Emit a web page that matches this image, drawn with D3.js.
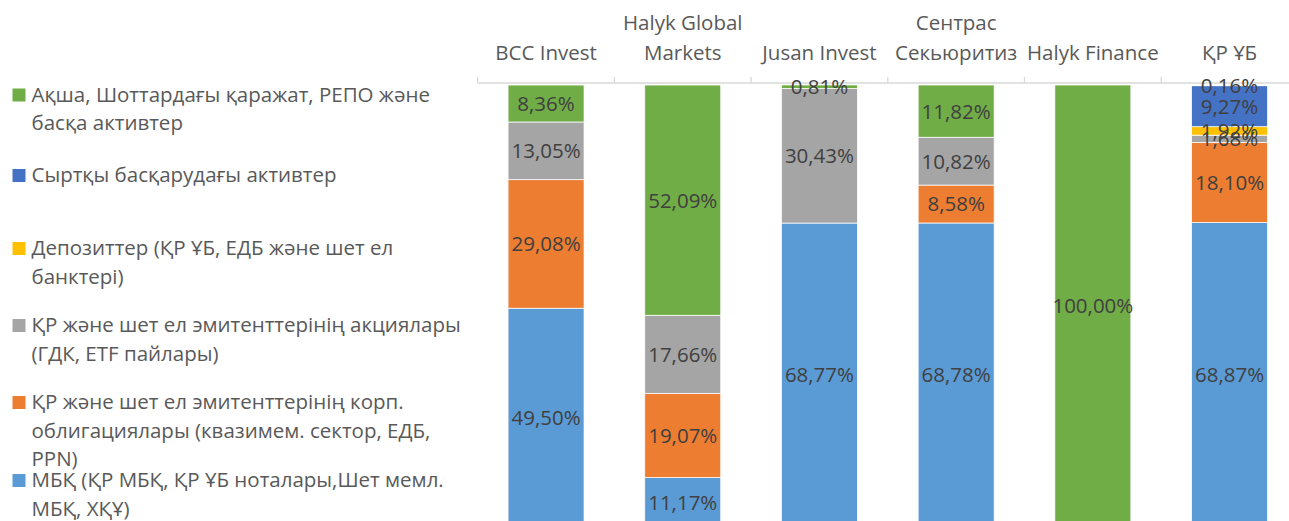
<!DOCTYPE html>
<html>
<head>
<meta charset="utf-8">
<script src="https://cdn.jsdelivr.net/npm/d3@7"></script>
<style>
  body { margin: 0; background: #fff; }
  svg { display: block; font-family: "Open Sans", sans-serif; }
</style>
</head>
<body>
<script>
// categories (line breaks as in the original labels)
const categories = ['BCC Invest', 'Halyk Global\nMarkets', 'Jusan Invest', 'Сентрас\nСекьюритиз', 'Halyk Finance', 'ҚР ҰБ'];

// series, bottom to top
const seriesNames = [
    'МБҚ (ҚР МБҚ, ҚР ҰБ ноталары,Шет мемл.\nМБҚ, ХҚҰ)',
    'ҚР және шет ел эмитенттерінің корп.\nоблигациялары (квазимем. сектор, ЕДБ,\nPPN)',
    'ҚР және шет ел эмитенттерінің акциялары\n(ГДК, ETF пайлары)',
    'Депозиттер (ҚР ҰБ, ЕДБ және шет ел\nбанктері)',
    'Сыртқы басқарудағы активтер',
    'Ақша, Шоттардағы қаражат, РЕПО және\nбасқа активтер'
];
const seriesColors = ['#5B9BD5', '#ED7D31', '#A5A5A5', '#FFC000', '#4472C4', '#70AD47'];

const mbk      = [49.50, 11.17, 68.77, 68.78, 0, 68.87];
const corp     = [29.08, 19.07, 0, 8.58, 0, 18.10];
const shares   = [13.05, 17.66, 30.43, 10.82, 0, 1.68];
const deposits = [0, 0, 0, 0, 0, 1.92];
const external = [0, 0, 0, 0, 0, 9.27];
const cash     = [8.36, 52.09, 0.81, 11.82, 100, 0.16];

const seriesValues = [mbk, corp, shares, deposits, external, cash];

const W = 1289, H = 521;
const fontSize = 20.5;

const table = categories.map((c, i) => {
    const row = { cat: c };
    seriesNames.forEach((s, k) => row[k] = seriesValues[k][i]);
    return row;
});

const svg = d3.select('body').append('svg')
    .attr('width', W)
    .attr('height', H);

const plotLeft = 477.7, step = 136.7;
const x = d3.scaleBand()
    .domain(categories)
    .range([plotLeft, plotLeft + step * categories.length])
    .paddingInner(0.444)
    .paddingOuter(0.222);

const y = d3.scaleLinear()
    .domain([0, 100])
    .range([527, 85]);

const stack = d3.stack().keys(seriesNames.map((s, k) => k));
const stacked = stack(table);

// category axis on top
const axisY = 83;
svg.append('line')
    .attr('x1', plotLeft).attr('x2', W)
    .attr('y1', axisY).attr('y2', axisY)
    .attr('stroke', '#D9D9D9').attr('stroke-width', 1.3);

svg.selectAll('.tick')
    .data(d3.range(categories.length + 1))
    .enter().append('line')
    .attr('x1', i => plotLeft + i * x.step())
    .attr('x2', i => plotLeft + i * x.step())
    .attr('y1', axisY - 6).attr('y2', axisY)
    .attr('stroke', '#D9D9D9').attr('stroke-width', 1.3);

svg.selectAll('.cat')
    .data(categories)
    .enter().append('text')
    .attr('text-anchor', 'middle')
    .attr('fill', '#595959')
    .style('font-size', fontSize + 'px')
    .each(function(c) {
        const lines = c.split('\n');
        const t = d3.select(this);
        lines.forEach((ln, j) => {
            t.append('tspan')
                .attr('x', x(c) + x.bandwidth() / 2)
                .attr('y', 60 - (lines.length - 1 - j) * 30)
                .text(ln);
        });
    });

// bars
const layers = svg.selectAll('.layer')
    .data(stacked)
    .enter().append('g')
    .attr('fill', d => seriesColors[d.key]);

layers.selectAll('rect')
    .data(d => d)
    .enter().append('rect')
    .attr('x', d => x(d.data.cat))
    .attr('y', d => y(d[1]))
    .attr('width', x.bandwidth())
    .attr('height', d => y(d[0]) - y(d[1]))
    .attr('stroke', '#fff')
    .attr('stroke-width', 0.75);

// data labels
const fmt = v => v.toFixed(2).replace('.', ',') + '%';
stacked.forEach(layer => {
    svg.append('g').selectAll('text')
        .data(layer.filter(d => d[1] - d[0] > 0))
        .enter().append('text')
        .attr('x', d => x(d.data.cat) + x.bandwidth() / 2)
        .attr('y', d => (y(d[0]) + y(d[1])) / 2)
        .attr('dy', '0.36em')
        .attr('text-anchor', 'middle')
        .attr('fill', '#404040')
        .style('font-size', fontSize + 'px')
        .text(d => fmt(d[1] - d[0]));
});

// legend, top entry = last series
const legendBase = [101.5, 182, 255, 332, 409, 487];
const legendOrder = seriesNames.map((s, k) => k).reverse();
const leg = svg.selectAll('.leg')
    .data(legendOrder)
    .enter().append('g');

leg.append('rect')
    .attr('x', 12.5)
    .attr('y', (k, i) => legendBase[i] - 13)
    .attr('width', 13).attr('height', 13)
    .attr('fill', k => seriesColors[k]);

leg.append('text')
    .attr('fill', '#595959')
    .style('font-size', fontSize + 'px')
    .each(function(k, i) {
        const t = d3.select(this);
        seriesNames[k].split('\n').forEach((ln, j) => {
            t.append('tspan')
                .attr('x', 31.5)
                .attr('y', legendBase[i] + j * 28.5)
                .text(ln);
        });
    });
</script>
</body>
</html>
